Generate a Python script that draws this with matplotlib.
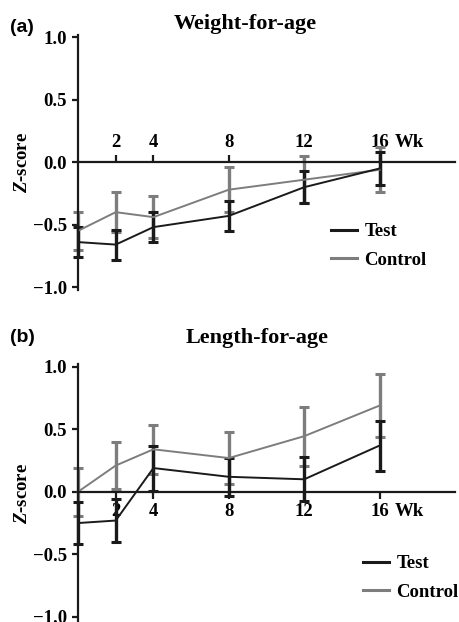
import matplotlib
matplotlib.use("Agg")
import matplotlib.pyplot as plt
from matplotlib.lines import Line2D

plt.rcParams['font.family'] = ['Liberation Serif', 'DejaVu Serif']
plt.rcParams['font.weight'] = 'bold'
plt.rcParams['mathtext.fontset'] = 'custom'
plt.rcParams['mathtext.it'] = 'Liberation Serif:italic:bold'
plt.rcParams['mathtext.rm'] = 'Liberation Serif:bold'

weeks = [0, 2, 4, 8, 12, 16]
tick_weeks = [2, 4, 8, 12, 16]

# Weight-for-age
wfa_test = [-0.64, -0.66, -0.52, -0.43, -0.20, -0.05]
wfa_test_err = [0.12, 0.12, 0.12, 0.12, 0.13, 0.13]
wfa_ctrl = [-0.55, -0.40, -0.44, -0.22, -0.14, -0.06]
wfa_ctrl_err = [0.15, 0.16, 0.17, 0.18, 0.19, 0.18]

# Length-for-age
lfa_test = [-0.25, -0.23, 0.19, 0.12, 0.10, 0.37]
lfa_test_err = [0.165, 0.17, 0.18, 0.15, 0.175, 0.20]
lfa_ctrl = [0.00, 0.21, 0.34, 0.27, 0.445, 0.69]
lfa_ctrl_err = [0.19, 0.19, 0.195, 0.21, 0.235, 0.25]

yticks = [-1.0, -0.5, 0.0, 0.5, 1.0]
ytick_labels = ['\u22121.0', '\u22120.5', '0.0', '0.5', '1.0']

BLACK = '#1a1a1a'
GREY = '#7d7d7d'
W, H = 459, 622
fig = plt.figure(figsize=(W / 100, H / 100), dpi=100)
fig.patch.set_facecolor('white')

FS = 13.5


def px(x0, y0, x1, y1):
    return [x0 / W, 1 - y1 / H, (x1 - x0) / W, (y1 - y0) / H]


def panel(rect, test, test_err, ctrl, ctrl_err, ylim, labels_top, title, title_xy, tag_xy, leg_xy):
    ax = fig.add_axes(rect)
    ax.set_facecolor('none')
    for y, e, c in [(ctrl, ctrl_err, GREY), (test, test_err, BLACK)]:
        ax.errorbar(weeks, y, yerr=e, color=c, lw=1.4, elinewidth=2.4,
                    capsize=3.6, capthick=2.2, clip_on=False)
    ax.set_xlim(0, 20)
    ax.set_ylim(*ylim)
    ax.set_yticks(yticks)
    ax.set_yticklabels(ytick_labels, fontsize=FS, fontweight='bold')
    ax.tick_params(axis='y', direction='out', length=4, width=1.6, color=BLACK, pad=4)
    ax.spines['left'].set_linewidth(1.6)
    ax.spines['left'].set_color(BLACK)
    ax.spines['right'].set_visible(False)
    if labels_top:
        ax.spines['bottom'].set_visible(False)
        ax.spines['top'].set_position(('data', 0))
        ax.spines['top'].set_linewidth(1.6)
        ax.spines['top'].set_color(BLACK)
        ax.xaxis.set_ticks_position('top')
        ax.xaxis.set_label_position('top')
    else:
        ax.spines['top'].set_visible(False)
        ax.spines['bottom'].set_position(('data', 0))
        ax.spines['bottom'].set_linewidth(1.6)
        ax.spines['bottom'].set_color(BLACK)
    ax.set_xticks(tick_weeks)
    ax.set_xticklabels([str(t) for t in tick_weeks], fontsize=FS, fontweight='bold')
    ax.tick_params(axis='x', direction='out', length=5, width=1.6, color=BLACK, pad=3)
    # Wk label
    ax.annotate('Wk', xy=(16, 0), xycoords='data', xytext=(11, 8 if labels_top else -8),
                textcoords='offset points', ha='left', va='bottom' if labels_top else 'top',
                fontsize=FS, fontweight='bold')
    ax.set_ylabel(r'$\mathit{Z}$-score', fontsize=FS, fontweight='bold', labelpad=1)
    fig.text(title_xy[0] / W, 1 - title_xy[1] / H, title, ha='center', va='center',
             fontsize=16, fontweight='bold')
    fig.text(tag_xy[0] / W, 1 - tag_xy[1] / H, tag_xy[2], ha='left', va='center',
             fontsize=14, fontweight='bold', family=['Liberation Sans', 'DejaVu Sans'])
    handles = [Line2D([], [], color=BLACK, lw=2.2), Line2D([], [], color=GREY, lw=2.2)]
    ax.legend(handles, ['Test', 'Control'], loc='upper left', frameon=False,
              bbox_to_anchor=(leg_xy[0] / W, 1 - leg_xy[1] / H), bbox_transform=fig.transFigure,
              handlelength=1.4, handletextpad=0.38, labelspacing=0.62, borderpad=0,
              borderaxespad=0, prop={'weight': 'bold', 'size': FS})
    return ax


panel(px(78, 35, 455, 289.5), wfa_test, wfa_test_err, wfa_ctrl, wfa_ctrl_err,
      (-1.02, 1.02), True, 'Weight-for-age', (245, 24), (10, 28, '(a)'), (331, 223))
panel(px(78, 364.3, 455, 621.8), lfa_test, lfa_test_err, lfa_ctrl, lfa_ctrl_err,
      (-1.04, 1.02), False, 'Length-for-age', (257, 338), (10, 338, '(b)'), (363, 555))

fig.savefig('out.png', dpi=100, facecolor='white')
